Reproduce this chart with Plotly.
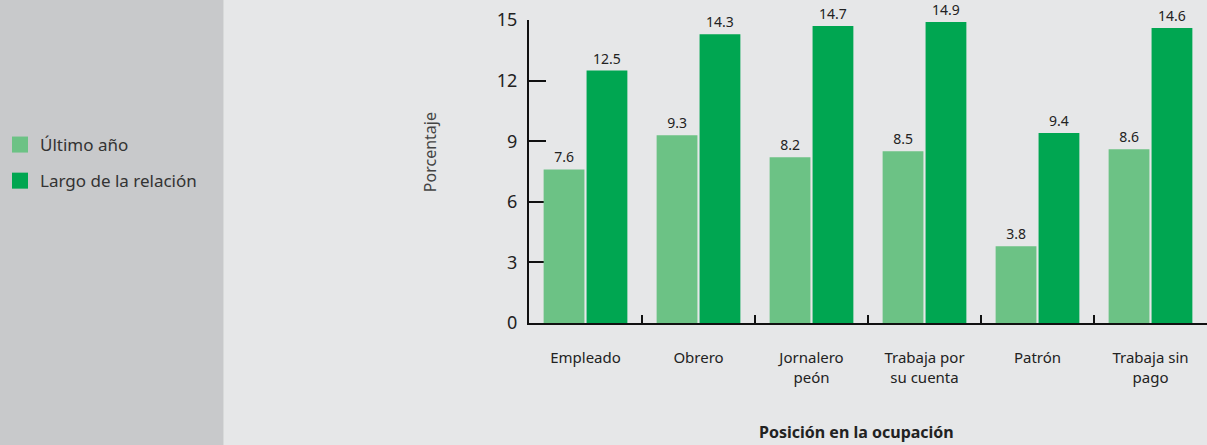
import plotly.graph_objects as go

# Categorías y porcentajes por posición en la ocupación
categorias = ["Empleado", "Obrero", "Jornalero<br>peón", "Trabaja por<br>su cuenta",
              "Patrón", "Trabaja sin<br>pago"]
ultimo_anio = [7.6, 9.3, 8.2, 8.5, 3.8, 8.6]
largo_relacion = [12.5, 14.3, 14.7, 14.9, 9.4, 14.6]
y_ticks = [0, 3, 6, 9, 12, 15]

series = [
    ("Último año", ultimo_anio, "#6CC285"),
    ("Largo de la relación", largo_relacion, "#00A651"),
]

FONT = "Noto Sans"
W, H = 1207, 445
ML, MR, MT, MB = 528, 0, 20, 122
PW = W - ML - MR
PH = H - MT - MB


def px_x(px):
    return (px - ML) / PW


def px_y(py):
    return (H - MB - py) / PH


fig = go.Figure()
for i, (nombre, valores, color) in enumerate(series):
    fig.add_trace(go.Bar(
        name=nombre, x=categorias, y=valores, showlegend=False,
        marker=dict(color=color, line=dict(width=0)),
        text=[f"{v:.1f}" for v in valores], textposition="outside",
        textfont=dict(size=14, color="#222222", family=FONT), cliponaxis=False,
    ))
    # Entrada de leyenda con cuadro de 16 px
    fig.add_trace(go.Scatter(
        name=nombre, x=[None], y=[None], mode="markers", legendgroup=f"g{i}",
        marker=dict(symbol="square", size=16, color=color),
    ))

# Panel gris de la izquierda
fig.add_shape(type="rect", xref="paper", yref="paper",
              x0=px_x(-20), x1=px_x(222), y0=-2, y1=3,
              fillcolor="#C8C9CB", line=dict(width=0), layer="below")

fig.add_annotation(text="Porcentaje", xref="paper", yref="paper",
                   x=px_x(429), y=px_y(152), xanchor="center", yanchor="middle",
                   textangle=-90, showarrow=False,
                   font=dict(size=16, color="#444444", family=FONT))
fig.add_annotation(text="<b>Posición en la ocupación</b>", xref="paper", yref="paper",
                   x=px_x(856), y=px_y(432), xanchor="center", yanchor="middle",
                   showarrow=False, font=dict(size=16, color="#222222", family=FONT))

fig.update_layout(
    width=W, height=H, margin=dict(l=ML, r=MR, t=MT, b=MB),
    paper_bgcolor="#E6E7E8", plot_bgcolor="#E6E7E8",
    barmode="group", bargap=0.24, bargroupgap=0.05,
    font=dict(family=FONT, color="#222222"),
    legend=dict(x=px_x(-2), y=px_y(127), xanchor="left", yanchor="top",
                bgcolor="rgba(0,0,0,0)", font=dict(size=17, color="#333333", family=FONT),
                tracegroupgap=11, itemwidth=30, itemsizing="trace"),
    showlegend=True,
)
fig.update_xaxes(
    showline=True, linecolor="#111111", linewidth=2,
    ticks="inside", tickson="boundaries", ticklen=8, tickwidth=2, tickcolor="#111111",
    tickfont=dict(size=15, color="#222222", family=FONT), ticklabelstandoff=20,
    showgrid=False, zeroline=False, layer="above traces",
)
fig.update_yaxes(
    range=[0, 15], tickvals=y_ticks, showline=True, linecolor="#111111", linewidth=2,
    ticks="inside", ticklen=17, tickwidth=2, tickcolor="#111111",
    tickfont=dict(size=18, color="#222222", family=FONT), ticklabelstandoff=6,
    showgrid=False, zeroline=False, layer="below traces",
)

fig.write_html("out.html")
